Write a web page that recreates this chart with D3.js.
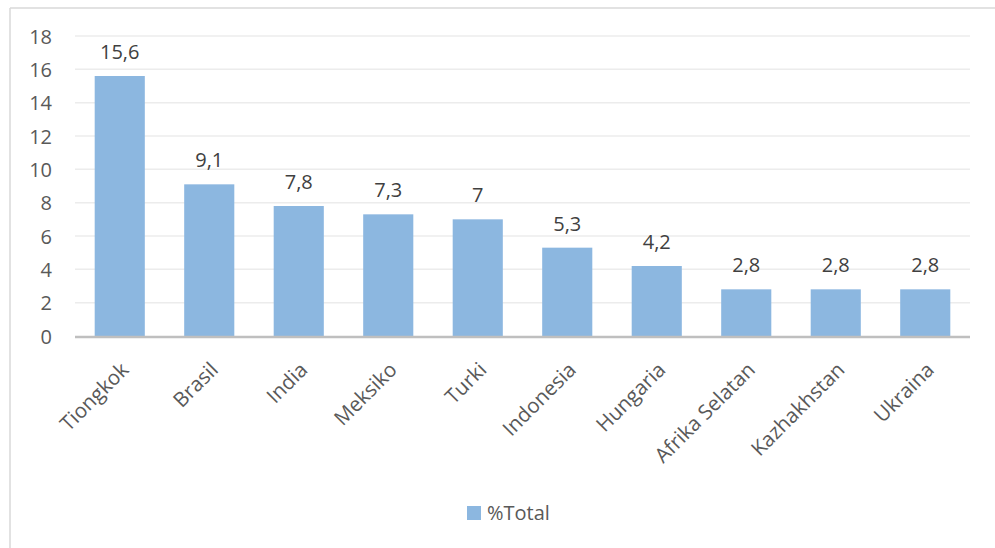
<!DOCTYPE html>
<html>
<head>
<meta charset="utf-8">
<script src="https://cdn.jsdelivr.net/npm/d3@7"></script>
<style>
  html, body { margin: 0; padding: 0; background: #fff; }
  svg { display: block; font-family: "Open Sans", "Segoe UI", sans-serif; }
</style>
</head>
<body>
<svg id="chart" width="995" height="548"></svg>
<script>
const categories = ["Tiongkok", "Brasil", "India", "Meksiko", "Turki", "Indonesia", "Hungaria", "Afrika Selatan", "Kazhakhstan", "Ukraina"];
const values = [15.6, 9.1, 7.8, 7.3, 7, 5.3, 4.2, 2.8, 2.8, 2.8];
const valueLabels = ["15,6", "9,1", "7,8", "7,3", "7", "5,3", "4,2", "2,8", "2,8", "2,8"];
const yTicks = [0, 2, 4, 6, 8, 10, 12, 14, 16, 18];
const seriesName = "%Total";

const svg = d3.select("#chart");
const textColor = "#595959";
const barColor = "#8cb7e0";

// chart border (top and left visible)
svg.append("line").attr("x1", 10).attr("x2", 995).attr("y1", 8).attr("y2", 8)
  .attr("stroke", "#d9d9d9").attr("stroke-width", 1.5);
svg.append("line").attr("x1", 10).attr("x2", 10).attr("y1", 8).attr("y2", 548)
  .attr("stroke", "#d9d9d9").attr("stroke-width", 1.5);

const plot = { left: 75, right: 970, top: 36, bottom: 336 };

const x = d3.scaleBand().domain(categories).range([plot.left, plot.right]).paddingInner(0.44).paddingOuter(0.22);
const y = d3.scaleLinear().domain([0, 18]).range([plot.bottom, plot.top]);

// gridlines
svg.append("g").selectAll("line").data(yTicks.filter(d => d > 0)).join("line")
  .attr("x1", plot.left).attr("x2", plot.right)
  .attr("y1", d => y(d)).attr("y2", d => y(d))
  .attr("stroke", "#ececec").attr("stroke-width", 1.5);

// y axis labels
const yAxis = d3.axisLeft(y).tickValues(yTicks).tickSize(0).tickPadding(0).tickFormat(d3.format("d"));
const yg = svg.append("g").attr("transform", `translate(${plot.left - 23},0)`).call(yAxis);
yg.select(".domain").remove();
yg.selectAll("text").attr("fill", textColor).style("font-size", "20px").style("font-family", "'Open Sans', sans-serif").attr("dy", "0.35em");

// bars
svg.append("g").selectAll("rect").data(values).join("rect")
  .attr("x", (d, i) => x(categories[i]))
  .attr("width", x.bandwidth())
  .attr("y", d => y(d))
  .attr("height", d => y(0) - y(d))
  .attr("fill", barColor);

// value labels
svg.append("g").selectAll("text").data(values).join("text")
  .attr("x", (d, i) => x(categories[i]) + x.bandwidth() / 2)
  .attr("y", d => y(d) - 17)
  .attr("text-anchor", "middle")
  .attr("fill", "#404040")
  .style("font-size", "20px")
  .text((d, i) => valueLabels[i]);

// x axis line
svg.append("line").attr("x1", plot.left).attr("x2", plot.right)
  .attr("y1", y(0) + 1).attr("y2", y(0) + 1)
  .attr("stroke", "#bfbfbf").attr("stroke-width", 2.5);

// x labels rotated
const xAxis = d3.axisBottom(x).tickSize(0).tickPadding(0);
const xg = svg.append("g").attr("transform", `translate(0,${plot.bottom})`).call(xAxis);
xg.select(".domain").remove();
xg.selectAll("text")
  .attr("fill", textColor)
  .style("font-size", "20.5px")
  .style("font-family", "'Open Sans', sans-serif")
  .attr("text-anchor", "end")
  .attr("transform", "translate(5,30) rotate(-45)")
  .attr("x", 0).attr("y", 0).attr("dy", "0.35em");

// legend
const lg = svg.append("g").attr("transform", "translate(467,506)");
lg.append("rect").attr("width", 14).attr("height", 14).attr("fill", barColor);
lg.append("text").attr("x", 20).attr("y", 14).attr("fill", textColor)
  .style("font-size", "20px").text(seriesName);
</script>
</body>
</html>
